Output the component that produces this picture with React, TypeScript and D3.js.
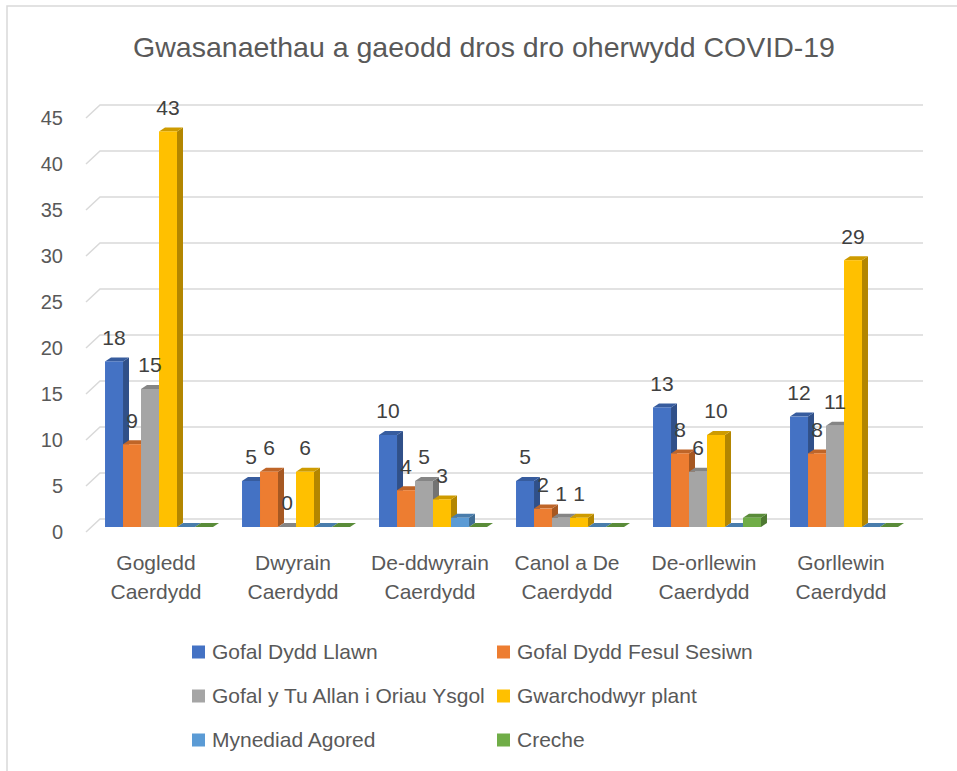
import React, { useEffect } from 'react';
import * as d3 from 'd3';

const W = 957;
const H = 771;

const categories = [
  ['Gogledd', 'Caerdydd'],
  ['Dwyrain', 'Caerdydd'],
  ['De-ddwyrain', 'Caerdydd'],
  ['Canol a De', 'Caerdydd'],
  ['De-orllewin', 'Caerdydd'],
  ['Gorllewin', 'Caerdydd'],
];
const seriesNames = [
  'Gofal Dydd Llawn',
  'Gofal Dydd Fesul Sesiwn',
  'Gofal y Tu Allan i Oriau Ysgol',
  'Gwarchodwyr plant',
  'Mynediad Agored',
  'Creche',
];
const colors = ['#4472C4', '#ED7D31', '#A5A5A5', '#FFC000', '#5B9BD5', '#70AD47'];
const llawn = [18, 5, 10, 5, 13, 12];
const sesiwn = [9, 6, 4, 2, 8, 8];
const tuAllan = [15, 0, 5, 1, 6, 11];
const gwarchodwyr = [43, 6, 3, 1, 10, 29];
const mynediad = [0, 0, 1, 0, 0, 0];
const creche = [0, 0, 0, 0, 1, 0];
const seriesValues = [llawn, sesiwn, tuAllan, gwarchodwyr, mynediad, creche];
const labelled = [true, true, true, true, false, false];
const ticks = [0, 5, 10, 15, 20, 25, 30, 35, 40, 45];

const FONT = '"Liberation Sans", Arial, sans-serif';
const TEXT = '#595959';
const DX = 6;
const DY = -4;

export default function App() {
  useEffect(() => {
    document.body.style.margin = '0';
  }, []);

  const catKeys = categories.map((c) => c.join(' '));
  const x0 = d3.scaleBand<string>().domain(catKeys).range([90.5, 912.5]).paddingInner(0.212).paddingOuter(0.106);
  const x1 = d3.scaleBand<string>().domain(seriesNames).range([0, x0.bandwidth()]);
  const y = d3.scaleLinear().domain([0, 45]).range([527, 113]);
  const yBack = d3.scaleLinear().domain([0, 45]).range([519, 105]);
  const yFront = d3.scaleLinear().domain([0, 45]).range([532, 118]);

  const bw = x1.bandwidth();
  const base = y(0);

  const bars: JSX.Element[] = [];
  const labels: JSX.Element[] = [];
  catKeys.forEach((ck, ci) => {
    seriesNames.forEach((s, si) => {
      const v = seriesValues[si][ci];
      const bx = (x0(ck) ?? 0) + (x1(s) ?? 0);
      const top = y(v);
      const c = d3.color(colors[si])!;
      const sideCol = c.darker(1).toString();
      const topCol = c.darker(0.6).toString();
      const topPts = [
        [bx, top],
        [bx + DX, top + DY],
        [bx + bw + DX, top + DY],
        [bx + bw, top],
      ];
      bars.push(
        <g key={`${ci}-${si}`}>
          {v > 0 && (
            <polygon
              points={[
                [bx + bw, top],
                [bx + bw + DX, top + DY],
                [bx + bw + DX, base + DY],
                [bx + bw, base],
              ].map((p) => p.join(',')).join(' ')}
              fill={sideCol}
            />
          )}
          <polygon points={topPts.map((p) => p.join(',')).join(' ')} fill={topCol} />
          {v > 0 && <rect x={bx} y={top} width={bw} height={base - top} fill={colors[si]} />}
        </g>
      );
      if (labelled[si]) {
        labels.push(
          <text
            key={`l-${ci}-${si}`}
            x={bx + bw / 2}
            y={top - 24}
            dy="0.35em"
            textAnchor="middle"
            fontSize={21}
            fill="#404040"
          >
            {v}
          </text>
        );
      }
    });
  });

  return (
    <svg width={W} height={H} style={{ display: 'block', fontFamily: FONT }}>
      <rect x={0} y={0} width={W} height={H} fill="#fff" />
      <path d={`M7,${H} V6 H${W}`} fill="none" stroke="#D9D9D9" strokeWidth={1.5} />
      <text x={484} y={47} dy="0.35em" textAnchor="middle" fontSize={28.5} fill={TEXT}>
        Gwasanaethau a gaeodd dros dro oherwydd COVID-19
      </text>

      {ticks.map((t) => (
        <g key={t}>
          <path
            d={`M86,${yFront(t)} L100,${yBack(t)} H923`}
            fill="none"
            stroke="#D9D9D9"
            strokeWidth={1.5}
          />
          <text x={63} y={yFront(t)} dy="0.35em" textAnchor="end" fontSize={20} fill={TEXT}>
            {t}
          </text>
        </g>
      ))}

      {bars}
      {labels}

      {categories.map((lines, ci) => (
        <text key={ci} textAnchor="middle" fontSize={21} fill={TEXT}>
          {lines.map((ln, li) => (
            <tspan key={li} x={(x0(catKeys[ci]) ?? 0) + x0.bandwidth() / 2 - 3} y={563 + li * 29} dy="0.35em">
              {ln}
            </tspan>
          ))}
        </text>
      ))}

      {seriesNames.map((s, si) => {
        const col = si % 2;
        const row = Math.floor(si / 2);
        const lx = col === 0 ? 192 : 497;
        const ly = 652 + row * 44;
        return (
          <g key={s}>
            <rect x={lx} y={ly - 6.5} width={13} height={13} fill={colors[si]} />
            <text x={lx + 20} y={ly} dy="0.35em" fontSize={21} fill={TEXT}>
              {s}
            </text>
          </g>
        );
      })}
    </svg>
  );
}
